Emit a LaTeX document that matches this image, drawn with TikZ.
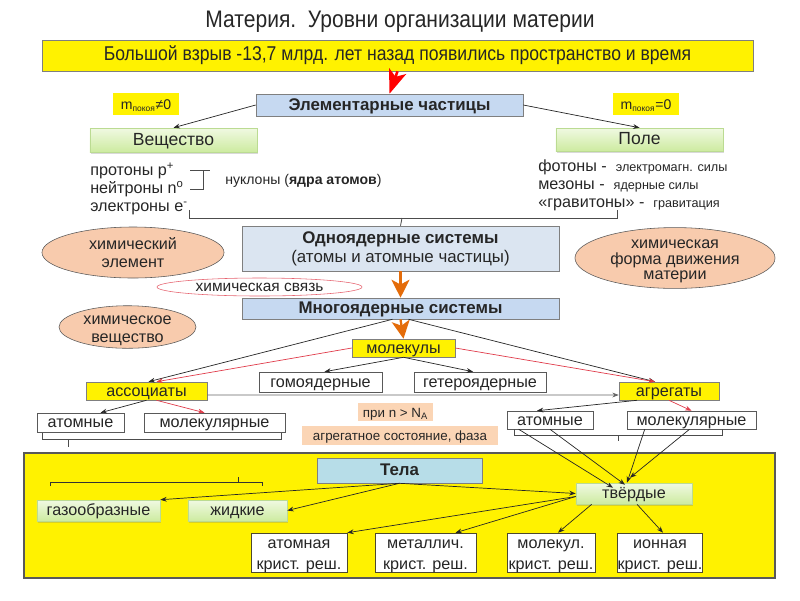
\documentclass[tikz,border=0pt]{standalone}
\usepackage{fontspec}
\setmainfont{Liberation Sans}
\newfontfamily\narrowsans[FakeStretch=0.88]{Liberation Sans}
\usepackage{tikz}
\usetikzlibrary{shapes.geometric, arrows.meta, positioning, shadows}

\definecolor{boxgray}{HTML}{7F7F7F}
\definecolor{lineblack}{HTML}{262626}
\definecolor{paleblue}{HTML}{C6D9F1}
\definecolor{paleblue2}{HTML}{DBE5F1}
\definecolor{telablue}{HTML}{B7DDE8}
\definecolor{peach}{HTML}{F8CBAD}
\definecolor{peachlight}{HTML}{FBD5B5}
\definecolor{greentop}{HTML}{F0F9E2}
\definecolor{greenbot}{HTML}{CDEBA0}
\definecolor{greenedge}{HTML}{BBDB92}
\definecolor{darkorange}{HTML}{E46C0A}
\definecolor{linkred}{HTML}{E03C4B}

\tikzstyle{yelbox} = [rectangle, draw=boxgray, fill=yellow, inner sep=0pt,
    text height=0.75em, text depth=0pt]
\tikzstyle{bluebox} = [rectangle, draw=boxgray, fill=paleblue, inner sep=0pt,
    text height=0.75em, text depth=0pt, font=\fontsize{12}{14}\selectfont\bfseries]
\tikzstyle{greenbox} = [rectangle, draw=greenedge, top color=greentop,
    bottom color=greenbot, inner sep=0pt, text height=0.75em, text depth=0pt,
    drop shadow={shadow xshift=0.8pt, shadow yshift=-1.2pt, opacity=0.3}]
\tikzstyle{whitebox} = [rectangle, draw=boxgray!70!black, fill=white, inner sep=0pt,
    text height=0.75em, text depth=0pt]
\tikzstyle{crystal} = [whitebox, draw=black!60!olive, minimum height=0.975cm, align=center,
    font=\fontsize{11.5}{15}\selectfont, text height=23.6pt, text depth=0pt]
\tikzstyle{oval} = [ellipse, draw=boxgray!70!black, fill=peach, inner sep=0pt,
    align=center, text depth=0pt]
\tikzstyle{note} = [rectangle, fill=peachlight, inner sep=0pt, text height=0.75em,
    text depth=0pt, font=\fontsize{9.5}{11}\selectfont]
\tikzstyle{arrow} = [-{Stealth[length=1.6mm, width=1.2mm]}, lineblack, line width=0.5pt]
\tikzstyle{redarrow} = [-{Stealth[length=1.6mm, width=1.2mm]}, linkred, line width=0.5pt]
\tikzstyle{fatarrow} = [-{Stealth[length=4.5mm, width=4.5mm, inset=1.2mm]}, line width=1.6pt]
\tikzstyle{bracket} = [boxgray!60!black, line width=0.6pt]

\begin{document}
\begin{tikzpicture}[x=0.025cm, y=-0.025cm, font=\fontsize{11.5}{13.5}\selectfont, text=black!85]
    \useasboundingbox (0,0) rectangle (800,600);

    % Title and Big Bang
    \node[font=\fontsize{17}{20}\narrowsans] (title) at (400,22) {Материя.\ \ Уровни организации материи};
    \node[yelbox, minimum width=17.775cm, minimum height=0.775cm,
        font=\fontsize{14.2}{16}\narrowsans] (bang) at (397.5,55.5)
        {Большой взрыв -13,7 млрд. лет назад появились пространство и время};

    % Elementary particles
    \node[bluebox, minimum width=6.675cm, minimum height=0.55cm] (elem) at (389.5,105) {Элементарные частицы};
    \node[yelbox, draw=none, minimum width=1.65cm, minimum height=0.55cm, font=\fontsize{10}{12}\selectfont]
        (massive) at (146,104) {m\textsubscript{\fontsize{6}{7}\selectfont покоя}≠0};
    \node[yelbox, draw=none, minimum width=1.65cm, minimum height=0.55cm, font=\fontsize{10}{12}\selectfont]
        (massless) at (646,104) {m\textsubscript{\fontsize{6}{7}\selectfont покоя}=0};
    \node[greenbox, minimum width=4.175cm, minimum height=0.6cm, font=\fontsize{12.5}{15}\selectfont]
        (substance) at (173.5,140) {Вещество};
    \node[greenbox, minimum width=4.175cm, minimum height=0.575cm, font=\fontsize{12.5}{15}\selectfont]
        (field) at (639.5,139.5) {Поле};

    \draw[red, -{Stealth[length=6mm, width=4.5mm, inset=1.5mm]}, line width=1.8pt] (bang.south) -- (elem.north);
    \draw[arrow] (elem.west) -- (substance.north);
    \draw[arrow] (elem.east) -- (field.north);

    % Particle lists
    \node[anchor=west, align=left, inner sep=0pt, font=\fontsize{11.5}{12.6}\selectfont]
        (particles) at (90,189) {протоны p\textsuperscript{+}\\нейтроны n\textsuperscript{o}\\электроны e\textsuperscript{-}};
    \node[anchor=west, inner sep=0pt, font=\fontsize{10}{12}\selectfont]
        (nucleons) at (225,181) {нуклоны (\textbf{ядра атомов})};
    \node[anchor=west, align=left, inner sep=0pt, font=\fontsize{11.5}{12.8}\selectfont]
        (forces) at (538,185) {фотоны -\ \ {\fontsize{9}{10}\selectfont электромагн. силы}\\
        мезоны -\ \ {\fontsize{9}{10}\selectfont ядерные силы}\\
        «гравитоны» -\ \ {\fontsize{9}{10}\selectfont гравитация}};
    \draw[bracket] (190,170) -- (210,170) (203,170) -- (203,189) -- (190,189);
    \draw[bracket] (189,210) -- (189,218) -- (617,218) -- (617,210);
    \coordinate (bigtick) at (402,218);

    % Nuclear systems
    \node[bluebox, fill=paleblue2, minimum width=7.925cm, minimum height=1.125cm, align=center,
        font=\fontsize{12}{13.8}\selectfont, text height=20.1pt] (mono) at (400.5,248.5)
        {\textbf{Одноядерные системы}\\(атомы и атомные частицы)};
    \node[bluebox, minimum width=7.925cm, minimum height=0.525cm] (poly) at (400.5,308.5) {Многоядерные системы};
    \node[ellipse, draw=linkred!80, fill=white, minimum width=5.125cm, minimum height=0.45cm, inner sep=0pt,
        font=\fontsize{11}{13}\selectfont] (chembond) at (259.5,287) {химическая связь};
    \draw[bracket] (bigtick) -- (mono.north);
    \draw[fatarrow, darkorange] (mono.south) -- (poly.north);

    % Chemistry ovals
    \node[oval, minimum width=4.55cm, minimum height=1.275cm, font=\fontsize{11.5}{12.8}\selectfont,
        text height=21.4pt] (chemelem) at (133,252.5) {химический\\элемент};
    \node[oval, minimum width=5cm, minimum height=1.5cm, font=\fontsize{11.5}{11}\selectfont,
        text height=30.6pt] (chemform) at (675,258) {химическая\\форма движения\\материи};
    \node[oval, minimum width=3.425cm, minimum height=0.85cm, font=\fontsize{11.5}{12.8}\selectfont,
        text height=21.4pt] (chemsubst) at (127.5,327) {химическое\\вещество};

    % Molecules, associates, aggregates
    \node[yelbox, minimum width=2.575cm, minimum height=0.45cm] (molecules) at (403.5,348) {молекулы};
    \node[whitebox, minimum width=3.075cm, minimum height=0.5cm] (homo) at (320.5,382) {гомоядерные};
    \node[whitebox, minimum width=3.3cm, minimum height=0.5cm] (hetero) at (480,382) {гетероядерные};
    \node[yelbox, minimum width=3.025cm, minimum height=0.45cm] (assoc) at (146.5,391) {ассоциаты};
    \node[yelbox, minimum width=2.5cm, minimum height=0.45cm] (aggr) at (669,391) {агрегаты};
    \node[whitebox, minimum width=2.175cm, minimum height=0.475cm] (atomL) at (80.5,422.5) {атомные};
    \node[whitebox, minimum width=3.525cm, minimum height=0.475cm] (molecL) at (214.5,422.5) {молекулярные};
    \node[whitebox, minimum width=2.15cm, minimum height=0.45cm] (atomR) at (550,420) {атомные};
    \node[whitebox, minimum width=3.225cm, minimum height=0.45cm] (molecR) at (691.5,420) {молекулярные};
    \node[note, minimum width=1.875cm, minimum height=0.45cm] (cond) at (395.5,412) {при n > N\textsubscript{A}};
    \node[note, minimum width=4.9cm, minimum height=0.475cm] (phase) at (400,435.5) {агрегатное состояние, фаза};

    \draw[fatarrow, darkorange] (poly.south) -- (molecules.north);
    \draw[arrow] ([xshift=-0.2cm]poly.south) -- ([xshift=0.05cm]assoc.north);
    \draw[arrow] ([xshift=0.2cm]poly.south) -- ([xshift=-0.35cm]aggr.north);
    \draw[redarrow] (molecules.west) -- ([xshift=0.25cm]assoc.north);
    \draw[redarrow] (molecules.east) -- ([xshift=-0.35cm]aggr.north);
    \draw[arrow] (molecules.south) -- ([xshift=0.1cm]homo.north);
    \draw[arrow] (molecules.south) -- ([xshift=-0.175cm]hetero.north);
    \draw[arrow, boxgray!80!black] (assoc.east) ++(0,4) -- ([yshift=-0.1cm]aggr.west);
    \draw[arrow] (assoc.south) -- ([xshift=0.5cm]atomL.north);
    \draw[redarrow] ([xshift=0.25cm]assoc.south) -- ([xshift=-0.25cm]molecL.north);
    \draw[arrow] ([xshift=-0.8cm]aggr.south) -- ([xshift=-0.325cm]atomR.north);
    \draw[redarrow] (aggr.south) -- (molecR.north);

    % Brackets under the pairs
    \draw[bracket] (42,433) -- (42,439) -- (281,439) -- (281,433) (68,439) -- (68,447);
    \draw[bracket] (514,429) -- (514,435) -- (722,435) -- (722,429) (618,435) -- (618,441);

    % Bodies
    \node[draw=black!65, line width=1.2pt, fill=yellow, minimum width=18.775cm, minimum height=3.125cm,
        inner sep=0pt] (bodies) at (399.5,515.5) {};
    \node[bluebox, fill=telablue, minimum width=4.125cm, minimum height=0.625cm] (tela) at (399.5,470.5) {Тела};
    \node[greenbox, minimum width=3.075cm, minimum height=0.525cm] (gas) at (98.5,510.5) {газообразные};
    \node[greenbox, minimum width=2.475cm, minimum height=0.525cm] (liquid) at (237.5,510.5) {жидкие};
    \node[greenbox, minimum width=2.9cm, minimum height=0.525cm] (solid) at (634,493.5) {твёрдые};
    \node[crystal, minimum width=2.4cm] (atomic) at (299,552.5) {атомная\\крист. реш.};
    \node[crystal, minimum width=2.525cm] (metallic) at (425.5,552.5) {металлич.\\крист. реш.};
    \node[crystal, minimum width=2.2cm] (molecular) at (551,552.5) {молекул.\\крист. реш.};
    \node[crystal, minimum width=2.05cm] (ionic) at (660,552.5) {ионная\\крист. реш.};
    \draw[bracket, black!80] (50,486) -- (50,482) -- (262,482) -- (262,486) (238,482) -- (238,477);

    \draw[arrow] (tela.south) -- (gas.north east);
    \draw[arrow] (tela.south) -- (liquid.east);
    \draw[arrow] (tela.south) -- (solid.west);
    \draw[arrow] ([yshift=-0.075cm]solid.west) -- (atomic.north east);
    \draw[arrow] ([yshift=-0.075cm]solid.west) -- ([xshift=0.75cm]metallic.north);
    \draw[arrow] ([xshift=0.4cm]solid.south west) -- ([xshift=0.175cm]molecular.north);
    \draw[arrow] ([xshift=0.075cm]solid.south) -- ([xshift=0.075cm]ionic.north);
    \draw[arrow] ([xshift=0.3cm]atomR.south west) -- ([xshift=-0.525cm, yshift=-0.125cm]solid.north);
    \draw[arrow] (atomR.south) -- ([xshift=-0.225cm, yshift=-0.05cm]solid.north);
    \draw[arrow] ([xshift=0.45cm]molecR.south west) -- ([xshift=-0.175cm]solid.north);
    \draw[arrow] ([xshift=-0.05cm]molecR.south) -- ([xshift=-0.1cm, yshift=0.125cm]solid.north);
\end{tikzpicture}
\end{document}
